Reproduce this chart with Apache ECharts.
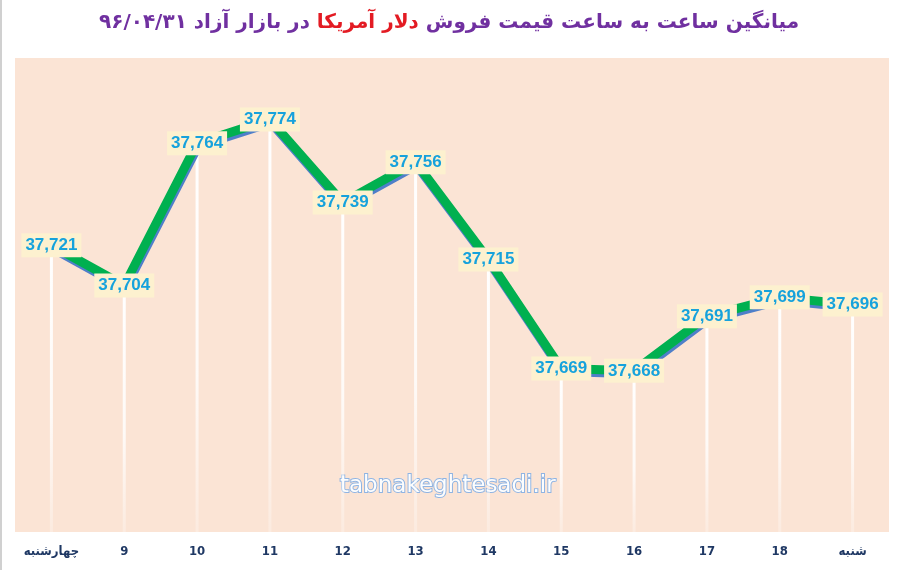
<!DOCTYPE html>
<html>
<head>
<meta charset="utf-8">
<script src="https://cdn.jsdelivr.net/npm/echarts@6/dist/echarts.min.js"></script>
<style>
html, body { margin: 0; padding: 0; background: #fff; }
#chart { width: 898px; height: 570px; }
</style>
</head>
<body>
<div id="chart"></div>
<script>
var days = ['چهارشنبه', '9', '10', '11', '12', '13', '14', '15', '16', '17', '18', 'شنبه'];
var prices = [37721, 37704, 37764, 37774, 37739, 37756, 37715, 37669, 37668, 37691, 37699, 37696];
var yMin = 37600;
var yMax = 37800;

var chart = echarts.init(document.getElementById('chart'));

var option = {
	backgroundColor: '#ffffff',
	animation: false,
	title: {
		left: 'center',
		top: 8,
		text: '{p|در بازار آزاد ۹۶/۰۴/۳۱ }{r|دلار آمریکا}{p| میانگین ساعت به ساعت قیمت فروش}',
		textStyle: {
			rich: {
				p: { color: '#7030a0', fontSize: 20, fontWeight: 'bold', fontFamily: 'DejaVu Sans' },
				r: { color: '#e31b23', fontSize: 20, fontWeight: 'bold', fontFamily: 'DejaVu Sans' }
			}
		}
	},
	grid: {
		left: 15,
		right: 9,
		top: 58,
		bottom: 38,
		show: true,
		backgroundColor: '#fbe4d5',
		borderWidth: 0
	},
	xAxis: {
		type: 'category',
		data: days,
		boundaryGap: true,
		axisLine: { show: false },
		axisTick: { show: false },
		axisLabel: {
			margin: 13,
			color: '#1f3864',
			fontSize: 13,
			fontWeight: 'bold',
			fontFamily: 'DejaVu Sans Condensed'
		}
	},
	yAxis: {
		type: 'value',
		min: yMin,
		max: yMax,
		show: false,
		splitLine: { show: false }
	},
	graphic: [{
		type: 'line',
		shape: { x1: 1, y1: 0, x2: 1, y2: 570 },
		style: { stroke: '#d0d0d0', lineWidth: 2 }
	}, {
		type: 'text',
		left: 339,
		top: 474,
		style: {
			text: 'tabnakeghtesadi.ir',
			fill: '#fdfdfd',
			stroke: '#8fb4e3',
			lineWidth: 2,
			font: '23px "DejaVu Sans"',
			shadowColor: '#ffffff',
			shadowBlur: 8
		}
	}],
	series: [{
		name: 'drop',
		type: 'bar',
		data: prices,
		barWidth: 3,
		silent: true,
		z: 1,
		itemStyle: {
			color: new echarts.graphic.LinearGradient(0, 0, 0, 1, [
				{ offset: 0, color: 'rgba(255,255,255,1)' },
				{ offset: 0.6, color: 'rgba(255,255,255,0.8)' },
				{ offset: 1, color: 'rgba(255,255,255,0.25)' }
			])
		}
	}, {
		name: 'price',
		type: 'line',
		data: prices,
		symbol: 'circle',
		symbolSize: 1,
		showSymbol: true,
		itemStyle: { color: '#00b050' },
		z: 3,
		lineStyle: {
			color: '#00b050',
			width: 9,
			shadowColor: '#4f7fc9',
			shadowOffsetX: 1,
			shadowOffsetY: 3,
			shadowBlur: 0
		},
		label: {
			show: true,
			position: 'inside',
			formatter: function (p) {
				return echarts.format.addCommas(p.value);
			},
			color: '#16a2dc',
			fontSize: 17,
			fontWeight: 'bold',
			fontFamily: 'Liberation Sans',
			backgroundColor: '#fdf1cf',
			padding: [4, 4, 3, 4]
		}
	}]
};
chart.setOption(option);
</script>
</body>
</html>
